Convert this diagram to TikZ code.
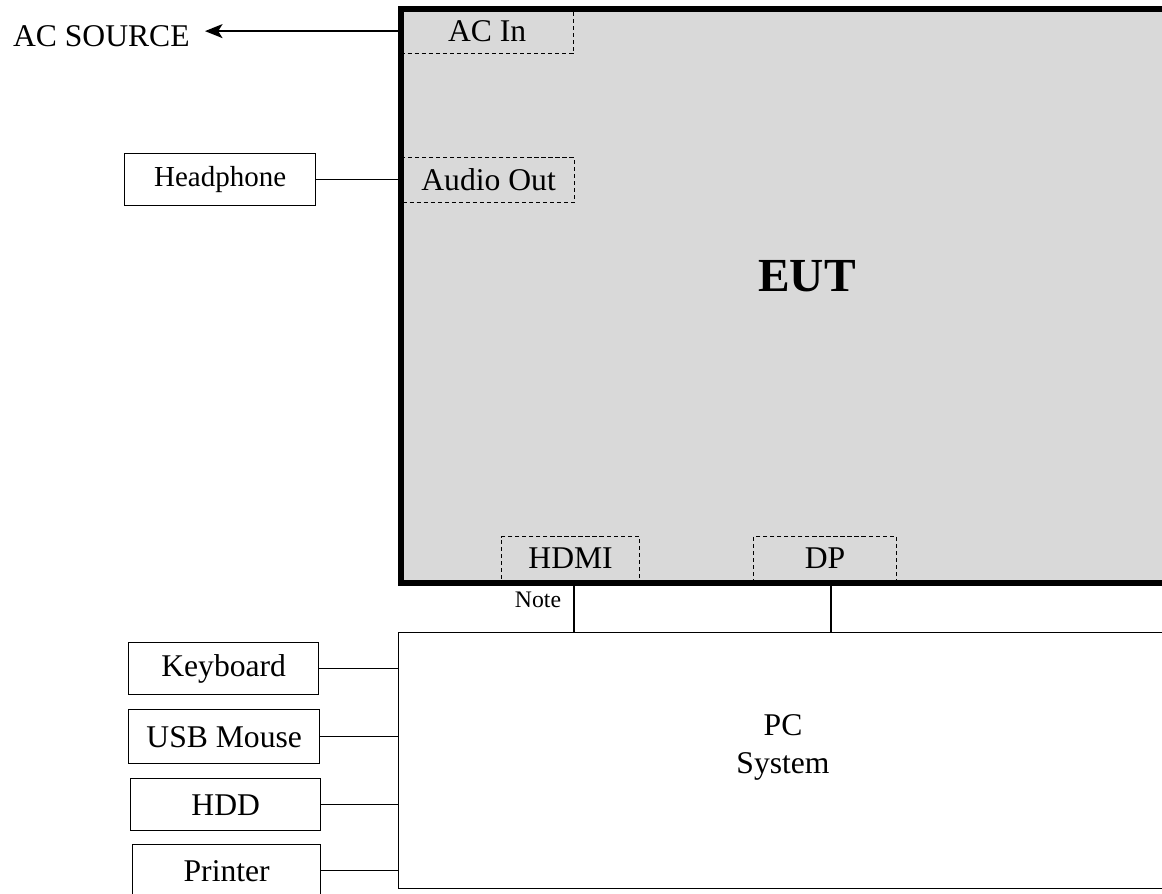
\documentclass[tikz,border=0pt]{standalone}
\usepackage{fontspec}
\setmainfont{Liberation Serif}
\usetikzlibrary{arrows.meta}
\definecolor{eutgray}{RGB}{217,217,217}

\begin{document}
\begin{tikzpicture}[x=0.02cm,y=-0.02cm,>={Stealth[length=10pt,width=8pt,inset=2.5pt]},
      font=\fontsize{18}{21.6}\selectfont,
      blk/.style={draw,line width=0.8pt,inner sep=0pt,anchor=north west},
      port/.style={draw,line width=0.7pt,dash pattern=on 2.4pt off 1.6pt,inner sep=0pt,anchor=north west}]
    \useasboundingbox (0,0) rectangle (1162,893);
    \clip (0,0) rectangle (1162,893);
    % --- EUT with its ports ---
    \node[blk,fill=eutgray,line width=2.2pt,minimum width=15.5cm,minimum height=11.44cm] (eut) at (400,8) {};
    \node[font=\bfseries\fontsize{27}{32}\selectfont] (euttxt) at (807,276) {EUT};
    \node[port,minimum width=3.46cm,minimum height=0.9cm] (acin) at (400,8) {AC In};
    \node[port,minimum width=3.44cm,minimum height=0.9cm] (audio) at (402,157) {Audio Out};
    \node[port,minimum width=2.76cm,minimum height=0.88cm] (hdmi) at (501,536) {HDMI};
    \node[port,minimum width=2.86cm,minimum height=0.88cm] (dp) at (753,536) {DP};
    \draw[line width=2.2pt] (eut.north west) rectangle (eut.south east);
    \coordinate (hdmiport) at (574,580);
    \coordinate (dpport) at (831,580);
    % --- AC source, headphone ---
    \node[inner sep=0pt,anchor=east] (acsrc) at (190,36) {AC SOURCE};
    \draw[->,line width=0.8pt] (acin.west) -- ([xshift=0.3cm]acin.west -| acsrc.east);
    \node[blk,minimum width=3.82cm,minimum height=1.04cm,font=\fontsize{16.5}{20}\selectfont] (phone) at (124,153) {Headphone};
    \draw[line width=0.8pt] (phone.east) -- (phone.east -| eut.west);
    % --- PC system and its peripherals ---
    \node[blk,minimum width=15.54cm,minimum height=5.12cm] (pc) at (398,632) {};
    \node[align=center] (pctxt) at (783,747) {PC\\System};
    \node[font=\fontsize{13.5}{16}\selectfont] (note) at (538,600) {Note};
    \draw[line width=0.8pt] (hdmiport) -- (hdmiport |- pc.north);
    \draw[line width=0.8pt] (dpport) -- (dpport |- pc.north);
    \node[blk,minimum width=3.8cm,minimum height=1.04cm] (kbd) at (128,642) {Keyboard};
    \node[blk,minimum width=3.82cm,minimum height=1.08cm] (mouse) at (128,709) {USB Mouse};
    \node[blk,minimum width=3.8cm,minimum height=1.04cm] (hdd) at (130,778) {HDD};
    \node[blk,minimum width=3.76cm,minimum height=1.04cm] (prn) at (132,844) {Printer};
    \foreach \dev in {kbd,mouse,hdd,prn}
      \draw[line width=0.8pt] (\dev.east) -- (\dev.east -| pc.west);
  \end{tikzpicture}
\end{document}
